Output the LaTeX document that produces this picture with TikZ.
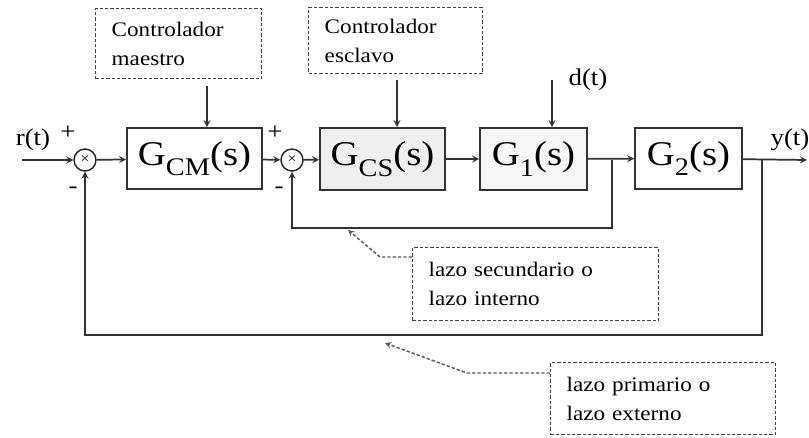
\documentclass[tikz,border=0pt]{standalone}
\usepackage{fontspec}
\setmainfont{Liberation Serif}[FakeStretch=1.12]
\newcommand{\px}{0.75pt}
\newcommand{\gsub}[1]{G\raisebox{-0.3em}{\fontsize{19}{19}\selectfont #1}(s)}
\begin{document}
\begin{tikzpicture}[>=stealth, x=0.75pt, y=-0.75pt,
  block/.style={draw=black!80, line width=1.3pt, rectangle, inner sep=0pt, font=\fontsize{26}{26}\selectfont},
  note/.style={draw=black!75, dash pattern=on 2.5pt off 1.5pt, line width=1.1pt, anchor=north west,
    align=left, inner xsep=12pt, font=\fontsize{15.5}{22}\selectfont},
  sumnode/.style={draw=black!85, line width=1.1pt, circle, minimum size=16.5pt, inner sep=0pt, font=\fontsize{11}{11}\selectfont},
  sig/.style={font=\fontsize{18}{18}\selectfont},
  link/.style={draw=black!80, line width=1.3pt, ->},
  tag/.style={draw=black!65, dash pattern=on 2.5pt off 1.5pt, line width=1.1pt, ->}]
\useasboundingbox (0,0) rectangle (809,437);

% bloques
\node[block, minimum width=135*\px, minimum height=61*\px] (gcm) at (194.5,158.5) {\gsub{CM}};
\node[block, fill=blue!4!gray!12, minimum width=125*\px, minimum height=62*\px] (gcs) at (382.5,159) {\gsub{CS}};
\node[block, fill=blue!3!gray!6, minimum width=107*\px, minimum height=62*\px] (gone) at (533.5,159) {\gsub{1}};
\node[block, minimum width=107*\px, minimum height=61*\px] (gtwo) at (688.5,158.5) {\gsub{2}};

% sumadores
\node[sumnode] (sumo) at (85,160) {×};
\node[sumnode] (sumi) at (292,160) {×};
\node[sig] (po) at (68,133) {+};
\node[sig] (mo) at (73,190) {-};
\node[sig] (pi) at (275,133) {+};
\node[sig] (mi) at (279,190) {-};

% notas
\node[note, text width=134*\px, minimum height=70*\px] (master) at (95,8) {Controlador\\maestro};
\node[note, text width=142*\px, minimum height=66*\px] (slave) at (308,7) {Controlador\\esclavo};
\node[note, text width=214*\px, minimum height=73*\px] (inner) at (412,247) {lazo secundario o\\lazo interno};
\node[note, text width=193*\px, minimum height=72*\px] (outer) at (550,362) {lazo primario o\\lazo externo};

% senales
\node[sig] (rin) at (33,140) {r(t)};
\node[sig] (yout) at (790,140) {y(t)};
\node[sig] (dist) at (588,80) {d(t)};

\coordinate (rstart) at (22,160);
\coordinate (yend) at (807,160);
\coordinate (bi) at (612,160);
\coordinate (bo) at (762,160);
\coordinate (mtop) at (207,86);
\coordinate (stop) at (397,80);
\coordinate (dtop) at (552,80);
\coordinate (iarr) at (348,230);
\coordinate (oarr) at (385,343);

\draw[link] (rstart) -- (sumo);
\draw[link] (sumo) -- (gcm);
\draw[link] (gcm) -- (sumi);
\draw[link] (sumi) -- (gcs);
\draw[link] (gcs) -- (gone);
\draw[link] (gone) -- (gtwo);
\draw[link] (gtwo) -- (yend);
\draw[link] (mtop) -- (mtop |- gcm.north);
\draw[link] (stop) -- (stop |- gcs.north);
\draw[link] (dtop) -- (dtop |- gone.north);

% lazos
\draw[link] (bi) -- ++(0,68) -| (sumi.south);
\draw[link] (bo) -- ++(0,175) -| (sumo.south);

\draw[tag] ([yshift=-10*\px]inner.north west) -- ++(-32,0) -- (iarr);
\draw[tag] ([yshift=-11*\px]outer.north west) -- ++(-83,0) -- (oarr);
\end{tikzpicture}
\end{document}
